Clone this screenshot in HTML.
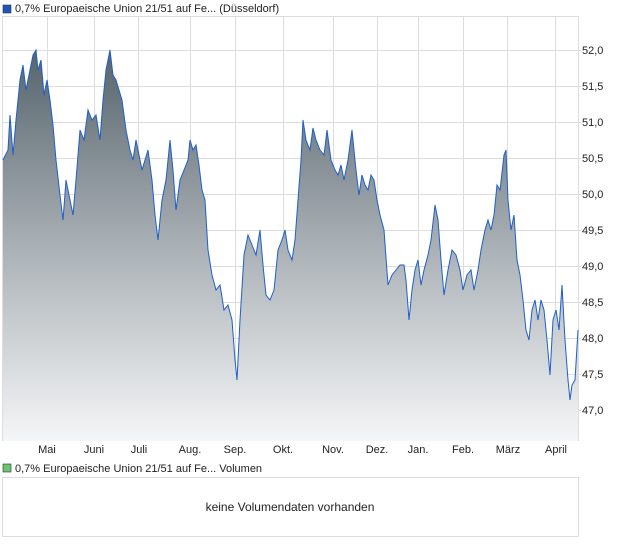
<!DOCTYPE html>
<html><head><meta charset="utf-8"><style>
body{margin:0;background:#fff;width:620px;height:546px;overflow:hidden;font-family:"Liberation Sans",sans-serif}
</style></head><body>
<svg width="620" height="546" xmlns="http://www.w3.org/2000/svg" font-family="Liberation Sans, sans-serif">
<defs>
<linearGradient id="g" x1="0" y1="50" x2="0" y2="441" gradientUnits="userSpaceOnUse">
<stop offset="0" stop-color="#56646c"/><stop offset="0.5" stop-color="#a9b0b5"/><stop offset="1" stop-color="#f5f6f7"/>
</linearGradient>
</defs>
<rect x="3" y="5" width="8" height="8" fill="#1e56b8" stroke="#333" stroke-width="0.6"/>
<text x="15" y="12" font-size="11" fill="#222">0,7% Europaeische Union 21/51 auf Fe... (Düsseldorf)</text>
<rect x="2.5" y="16.5" width="576" height="424" fill="#fff" stroke="#ddd"/>
<g stroke="#ddd" stroke-width="1">
<line x1="47.5" y1="17" x2="47.5" y2="440"/><line x1="94.5" y1="17" x2="94.5" y2="440"/><line x1="138.5" y1="17" x2="138.5" y2="440"/><line x1="190.5" y1="17" x2="190.5" y2="440"/><line x1="235.5" y1="17" x2="235.5" y2="440"/><line x1="283.5" y1="17" x2="283.5" y2="440"/><line x1="333.5" y1="17" x2="333.5" y2="440"/><line x1="377.5" y1="17" x2="377.5" y2="440"/><line x1="418.5" y1="17" x2="418.5" y2="440"/><line x1="463.5" y1="17" x2="463.5" y2="440"/><line x1="507.5" y1="17" x2="507.5" y2="440"/><line x1="555.5" y1="17" x2="555.5" y2="440"/>
<line x1="3" y1="50.5" x2="581" y2="50.5"/><line x1="3" y1="86.5" x2="581" y2="86.5"/><line x1="3" y1="122.5" x2="581" y2="122.5"/><line x1="3" y1="158.5" x2="581" y2="158.5"/><line x1="3" y1="194.5" x2="581" y2="194.5"/><line x1="3" y1="230.5" x2="581" y2="230.5"/><line x1="3" y1="266.5" x2="581" y2="266.5"/><line x1="3" y1="302.5" x2="581" y2="302.5"/><line x1="3" y1="338.5" x2="581" y2="338.5"/><line x1="3" y1="374.5" x2="581" y2="374.5"/><line x1="3" y1="410.5" x2="581" y2="410.5"/>
</g>
<polygon fill="url(#g)" points="3,441 3,160 8,150 10,115 13,155 16,120 20,80 23,65 26,90 30,70 33,55 36,50 38,70 41,60 44,95 47,80 50,100 53,125 56,160 60,195 63,220 66,180 70,200 73,215 76,180 80,130 84,140 88,110 92,120 96,115 100,140 103,100 106,70 108,60 110,50 113,75 116,80 119,90 122,100 126,130 130,150 133,160 136,140 139,155 142,170 145,160 148,150 152,180 155,215 158,240 162,200 166,180 170,140 173,170 176,210 180,180 184,170 188,160 190,140 193,150 196,145 199,165 202,190 205,200 208,250 212,275 216,290 220,285 224,310 228,305 232,320 235,360 237,380 240,320 244,255 248,235 252,245 256,255 260,230 263,265 266,295 270,300 274,290 278,250 282,240 285,230 288,250 292,260 295,240 298,200 301,160 303,120 306,140 310,150 313,128 316,140 320,150 324,155 327,130 331,160 335,170 338,175 341,165 344,180 348,160 352,130 356,170 359,195 362,175 365,185 368,190 371,175 374,180 377,200 380,215 384,230 388,285 392,275 396,270 400,265 404,265 406,280 409,320 412,290 415,270 418,260 421,285 424,270 428,255 431,240 435,205 438,220 441,260 444,295 448,270 452,250 456,255 460,270 463,290 467,275 471,270 474,290 478,270 481,250 485,230 488,220 491,230 494,215 497,185 500,190 504,155 506,150 508,200 511,230 514,215 517,260 520,275 523,300 526,330 529,340 532,310 535,300 538,320 541,300 544,310 547,340 550,375 553,320 556,310 559,330 562,285 565,340 568,380 570,400 572,385 575,380 578,330 578,441"/>
<text x="205" y="213" font-size="20" fill="#fff" fill-opacity="0.25" font-weight="bold">AKTIEN</text>
<polyline fill="none" stroke="#1f5fc8" stroke-width="1" points="3,160 8,150 10,115 13,155 16,120 20,80 23,65 26,90 30,70 33,55 36,50 38,70 41,60 44,95 47,80 50,100 53,125 56,160 60,195 63,220 66,180 70,200 73,215 76,180 80,130 84,140 88,110 92,120 96,115 100,140 103,100 106,70 108,60 110,50 113,75 116,80 119,90 122,100 126,130 130,150 133,160 136,140 139,155 142,170 145,160 148,150 152,180 155,215 158,240 162,200 166,180 170,140 173,170 176,210 180,180 184,170 188,160 190,140 193,150 196,145 199,165 202,190 205,200 208,250 212,275 216,290 220,285 224,310 228,305 232,320 235,360 237,380 240,320 244,255 248,235 252,245 256,255 260,230 263,265 266,295 270,300 274,290 278,250 282,240 285,230 288,250 292,260 295,240 298,200 301,160 303,120 306,140 310,150 313,128 316,140 320,150 324,155 327,130 331,160 335,170 338,175 341,165 344,180 348,160 352,130 356,170 359,195 362,175 365,185 368,190 371,175 374,180 377,200 380,215 384,230 388,285 392,275 396,270 400,265 404,265 406,280 409,320 412,290 415,270 418,260 421,285 424,270 428,255 431,240 435,205 438,220 441,260 444,295 448,270 452,250 456,255 460,270 463,290 467,275 471,270 474,290 478,270 481,250 485,230 488,220 491,230 494,215 497,185 500,190 504,155 506,150 508,200 511,230 514,215 517,260 520,275 523,300 526,330 529,340 532,310 535,300 538,320 541,300 544,310 547,340 550,375 553,320 556,310 559,330 562,285 565,340 568,380 570,400 572,385 575,380 578,330"/>
<g font-size="11" fill="#222">
<text x="582" y="54">52,0</text><text x="582" y="90">51,5</text><text x="582" y="126">51,0</text><text x="582" y="162">50,5</text><text x="582" y="198">50,0</text><text x="582" y="234">49,5</text><text x="582" y="270">49,0</text><text x="582" y="306">48,5</text><text x="582" y="342">48,0</text><text x="582" y="378">47,5</text><text x="582" y="414">47,0</text>
</g>
<g font-size="11" fill="#222" text-anchor="middle">
<text x="47" y="453">Mai</text><text x="94" y="453">Juni</text><text x="139" y="453">Juli</text><text x="190" y="453">Aug.</text><text x="235" y="453">Sep.</text><text x="283" y="453">Okt.</text><text x="333" y="453">Nov.</text><text x="377" y="453">Dez.</text><text x="418" y="453">Jan.</text><text x="463" y="453">Feb.</text><text x="508" y="453">März</text><text x="556" y="453">April</text>
</g>
<rect x="3" y="464" width="8" height="8" fill="#6cc46c" stroke="#333" stroke-width="0.6"/>
<text x="15" y="472" font-size="11" fill="#222">0,7% Europaeische Union 21/51 auf Fe... Volumen</text>
<rect x="2.5" y="477.5" width="576" height="59" fill="#fff" stroke="#ddd"/>
<text x="290" y="511" font-size="12" fill="#222" text-anchor="middle">keine Volumendaten vorhanden</text>
</svg>
</body></html>
